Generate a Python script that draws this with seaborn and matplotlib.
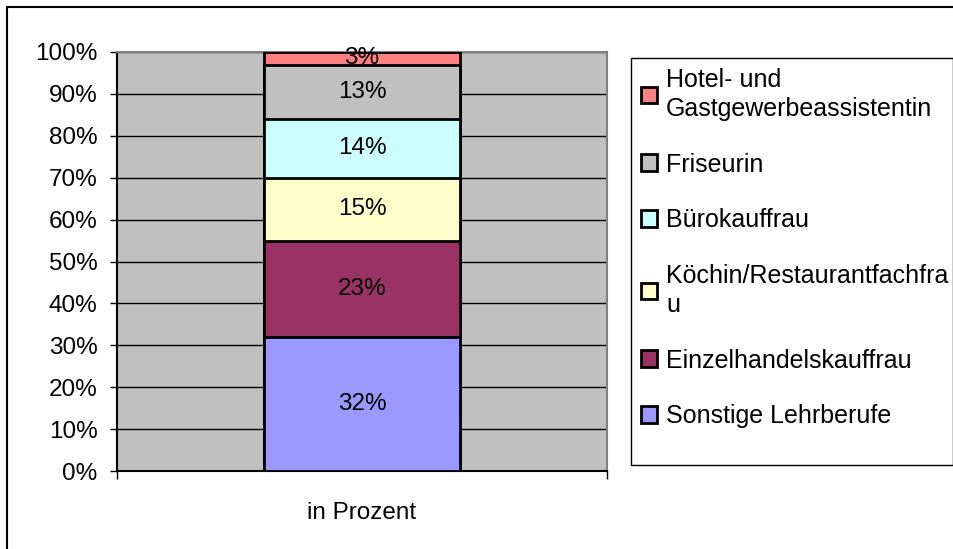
import numpy as np
import matplotlib
matplotlib.use("Agg")
import matplotlib.pyplot as plt
from matplotlib.patches import Patch, Rectangle
from matplotlib.lines import Line2D
import seaborn as sns

# Daten (von unten nach oben)
berufe = ["Sonstige Lehrberufe", "Einzelhandelskauffrau", "Köchin/Restaurantfachfrau",
          "Bürokauffrau", "Friseurin", "Hotel- und Gastgewerbeassistentin"]
legend_labels = ["Sonstige Lehrberufe", "Einzelhandelskauffrau", "Köchin/Restaurantfachfra\nu",
                 "Bürokauffrau", "Friseurin", "Hotel- und\nGastgewerbeassistentin"]
anteile = [32, 23, 15, 14, 13, 3]
farben = ["#9999FF", "#993366", "#FFFFCC", "#CCFFFF", "#C0C0C0", "#FF8080"]
kategorie = "in Prozent"
yticks = [0, 10, 20, 30, 40, 50, 60, 70, 80, 90, 100]

sns.set_style("white")
plt.rcParams["font.family"] = ["Liberation Sans", "DejaVu Sans"]
plt.rcParams["text.color"] = "black"
plt.rcParams["xtick.color"] = "black"
plt.rcParams["ytick.color"] = "black"
fs = 17.5

fig = plt.figure(figsize=(9.54, 5.49), dpi=100)
ax = fig.add_axes([117 / 954, 1 - 471 / 549, 490 / 954, 419 / 549])
ax.set_facecolor("#C0C0C0")

# gestapelte Balken: kumulierte Summen von oben nach unten zeichnen
kum = np.cumsum(anteile)
for i in range(len(anteile) - 1, -1, -1):
    sns.barplot(x=[kategorie], y=[kum[i]], color=farben[i], saturation=1, width=0.4,
                edgecolor="black", linewidth=2, ax=ax, zorder=3)

# Beschriftungen
unten = kum - np.array(anteile)
for u, v in zip(unten, anteile):
    ax.text(0, u + v / 2, f"{v}%", ha="center", va="center", fontsize=fs, color="black", zorder=5)

ax.set_ylim(0, 100)
ax.set_xlim(-0.5, 0.5)
ax.set_yticks(yticks)
ax.set_yticklabels([f"{t}%" for t in yticks], fontsize=fs)
ax.tick_params(axis="y", direction="out", length=5, width=1, color="black", labelcolor="black", pad=9, left=True)
ax.tick_params(axis="x", which="major", length=0, pad=22, labelsize=fs, labelcolor="black")
ax.set_xticks([-0.5, 0.5], minor=True)
ax.tick_params(axis="x", which="minor", direction="out", length=6, width=1, color="black", bottom=True)
ax.set_xlabel("")
ax.set_ylabel("")
ax.set_axisbelow(True)
ax.yaxis.grid(True, color="black", linewidth=1)
for s in ["top", "right"]:
    ax.spines[s].set_color("#808080")
    ax.spines[s].set_linewidth(1.5)
for s in ["left", "bottom"]:
    ax.spines[s].set_color("black")
    ax.spines[s].set_linewidth(1.5)
    ax.spines[s].set_visible(True)

# Legende (umgekehrte Reihenfolge)
handles = [Patch(facecolor=c, edgecolor="black", linewidth=2) for c in farben][::-1]
leg = fig.legend(handles, legend_labels[::-1], loc="upper left",
                 bbox_to_anchor=(631 / 954, 1 - 58 / 549), bbox_transform=fig.transFigure,
                 fontsize=18, frameon=False, borderaxespad=0,
                 handlelength=0.65, handleheight=0.65, handletextpad=0.35,
                 borderpad=0.4, labelspacing=1.27)
for t in leg.get_texts():
    t.set_linespacing(1.25)
    t.set_color("black")

# Rahmen der Legende
fig.add_artist(Rectangle((631 / 954, 1 - 465 / 549), 322 / 954, 407 / 549, fill=False,
                         edgecolor="black", linewidth=1, transform=fig.transFigure))

# äußerer Rahmen
fig.add_artist(Line2D([7 / 954, 1], [1 - 7 / 549, 1 - 7 / 549], color="black", lw=1.5, transform=fig.transFigure))
fig.add_artist(Line2D([7 / 954, 7 / 954], [0, 1 - 7 / 549], color="black", lw=1.5, transform=fig.transFigure))

fig.savefig("out.png", dpi=100)
